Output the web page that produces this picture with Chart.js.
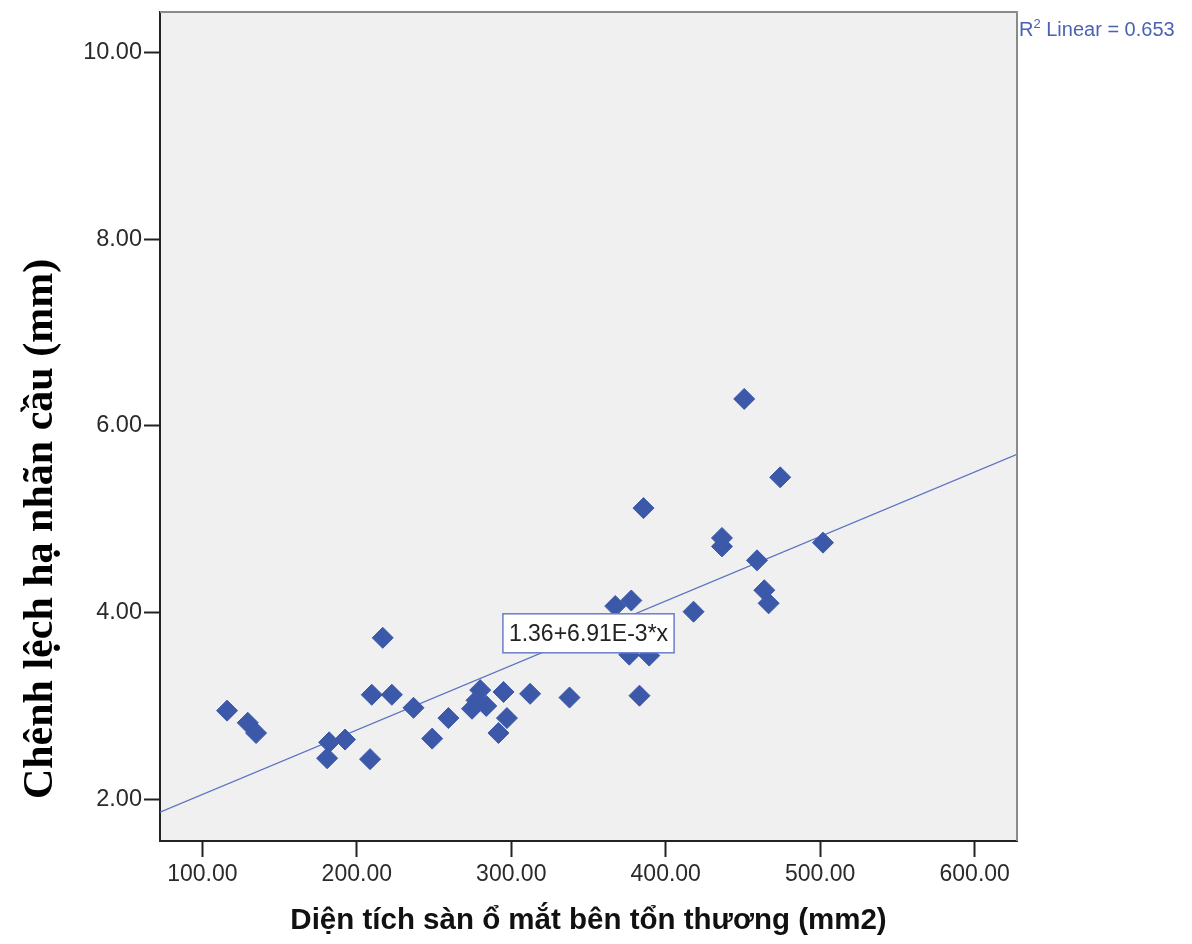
<!DOCTYPE html>
<html>
<head>
<meta charset="utf-8">
<script src="https://cdn.jsdelivr.net/npm/chart.js@4.4.1/dist/chart.umd.min.js"></script>
<style>
  html, body { margin: 0; padding: 0; background: #ffffff; }
  #wrap { width: 1192px; height: 944px; position: relative; }
</style>
</head>
<body>
<div id="wrap"><canvas id="chart"></canvas></div>
<script>
// Orbital floor area on the injured side (mm2) vs. globe displacement difference (mm)
const areaValues = [116.0, 129.4, 134.8, 180.8, 182.1, 192.4, 208.6, 209.7, 216.8, 222.7,
                    236.7, 248.8, 259.3, 279.9, 274.6, 283.8, 277.5, 295.0, 297.2, 291.7,
                    312.2, 337.7, 383.0, 376.4, 389.3, 367.3, 377.7, 418.0, 450.8, 474.1,
                    385.6, 436.4, 436.4, 459.1, 501.8, 463.8, 466.6];
const diffValues = [2.95, 2.82, 2.71, 2.44, 2.61, 2.64, 2.43, 3.12, 3.73, 3.12,
                    2.98, 2.65, 2.87, 3.17, 2.97, 3.00, 3.06, 3.15, 2.87, 2.71,
                    3.13, 3.09, 3.11, 3.55, 3.54, 4.07, 4.13, 4.01, 6.29, 5.45,
                    5.12, 4.80, 4.71, 4.56, 4.75, 4.24, 4.10];

const xTickValues = [100, 200, 300, 400, 500, 600];
const yTickValues = [2, 4, 6, 8, 10];
const xRange = [72.6, 627.4];
const yRange = [1.553, 10.436];

// Linear fit reported by the analysis
const fitIntercept = 1.36;
const fitSlope = 6.91e-3;
const r2Linear = 0.653;

const xTitle = 'Diện tích sàn ổ mắt bên tổn thương (mm2)';
const yTitle = 'Chênh lệch hạ nhãn cầu (mm)';

const markerColor = '#3C58A9';
const fitColor = '#5B72C2';
const plotBg = '#F0F0F0';

const points = areaValues.map((x, i) => ({ x: x, y: diffValues[i] }));
const fitLine = xRange.map(x => ({ x: x, y: fitIntercept + fitSlope * x }));
const fitLabel = fitIntercept.toFixed(2) + '+' + (fitSlope * 1000).toFixed(2) + 'E-3*x';

const framePlugin = {
  id: 'frame',
  beforeDraw(chart) {
    const { ctx, chartArea: a } = chart;
    ctx.save();
    ctx.fillStyle = '#ffffff';
    ctx.fillRect(0, 0, chart.width, chart.height);
    ctx.fillStyle = plotBg;
    ctx.fillRect(a.left, a.top, a.right - a.left, a.bottom - a.top);
    ctx.restore();
  },
  afterDatasetsDraw(chart) {
    // equation box centred on the fit line
    const { ctx, scales } = chart;
    const xm = (xRange[0] + xRange[1]) / 2;
    const px = scales.x.getPixelForValue(xm);
    const py = scales.y.getPixelForValue(fitIntercept + fitSlope * xm);
    ctx.save();
    ctx.font = '23px "Liberation Sans", Arial, sans-serif';
    const w = ctx.measureText(fitLabel).width + 12;
    const h = 39;
    ctx.fillStyle = '#ffffff';
    ctx.fillRect(px - w / 2, py - h / 2, w, h);
    ctx.strokeStyle = '#6A7DC8';
    ctx.lineWidth = 1.5;
    ctx.strokeRect(px - w / 2, py - h / 2, w, h);
    ctx.fillStyle = '#222222';
    ctx.textAlign = 'center';
    ctx.textBaseline = 'middle';
    ctx.fillText(fitLabel, px, py + 1);
    ctx.restore();
  },
  afterDraw(chart) {
    const { ctx, chartArea: a } = chart;
    ctx.save();
    // top and right edges of the plot frame
    ctx.strokeStyle = '#8A8A8A';
    ctx.lineWidth = 2;
    ctx.beginPath();
    ctx.moveTo(a.left, a.top);
    ctx.lineTo(a.right, a.top);
    ctx.lineTo(a.right, a.bottom);
    ctx.stroke();

    // R² note
    ctx.fillStyle = '#4A62B4';
    ctx.textBaseline = 'alphabetic';
    ctx.textAlign = 'left';
    let x = a.right + 2;
    const base = a.top + 24;
    ctx.font = '20px "Liberation Sans", Arial, sans-serif';
    ctx.fillText('R', x, base);
    x += ctx.measureText('R').width;
    ctx.font = '13px "Liberation Sans", Arial, sans-serif';
    ctx.fillText('2', x, base - 8);
    x += ctx.measureText('2').width;
    ctx.font = '20px "Liberation Sans", Arial, sans-serif';
    ctx.fillText(' Linear = ' + r2Linear.toFixed(3), x, base);

    // vertical axis title
    ctx.translate(52, 529);
    ctx.rotate(-Math.PI / 2);
    ctx.fillStyle = '#000000';
    ctx.font = 'bold 42px "Liberation Serif", "Times New Roman", serif';
    ctx.textAlign = 'center';
    ctx.fillText(yTitle, 0, 0);
    ctx.restore();
  }
};

new Chart(document.getElementById('chart'), {
  type: 'scatter',
  data: {
    datasets: [
      {
        label: 'points',
        data: points,
        pointStyle: 'rectRot',
        pointRadius: 10.5,
        pointHoverRadius: 10.5,
        backgroundColor: markerColor,
        borderColor: markerColor,
        borderWidth: 1,
        order: 0
      },
      {
        label: 'fit',
        type: 'line',
        data: fitLine,
        borderColor: fitColor,
        borderWidth: 1.3,
        pointRadius: 0,
        fill: false,
        order: 1
      }
    ]
  },
  options: {
    responsive: true,
    maintainAspectRatio: false,
    devicePixelRatio: 1,
    animation: false,
    events: [],
    layout: { padding: { top: 12, right: 175, bottom: 0, left: 0 } },
    plugins: {
      legend: { display: false },
      tooltip: { enabled: false }
    },
    scales: {
      x: {
        type: 'linear',
        min: xRange[0],
        max: xRange[1],
        afterBuildTicks: s => { s.ticks = xTickValues.map(v => ({ value: v })); },
        afterFit: s => { s.height = 103; s.paddingLeft = 0; s.paddingRight = 0; },
        border: { display: true, color: '#222222', width: 2 },
        grid: { display: true, drawOnChartArea: false, drawTicks: true, tickLength: 16, tickColor: '#222222', tickWidth: 2 },
        ticks: {
          padding: 4,
          maxRotation: 0,
          autoSkip: false,
          color: '#2a2a2a',
          font: { family: '"Liberation Sans", Arial, sans-serif', size: 23 },
          callback: v => Number(v).toFixed(2)
        },
        title: {
          display: true,
          text: xTitle,
          color: '#111111',
          font: { family: '"Liberation Sans", Arial, sans-serif', size: 29.5, weight: 'bold' },
          padding: { top: 0, bottom: 5 }
        }
      },
      y: {
        type: 'linear',
        min: yRange[0],
        max: yRange[1],
        afterBuildTicks: s => { s.ticks = yTickValues.map(v => ({ value: v })); },
        afterFit: s => { s.width = 160; s.paddingTop = 0; s.paddingBottom = 0; },
        border: { display: true, color: '#222222', width: 2 },
        grid: { display: true, drawOnChartArea: false, drawTicks: true, tickLength: 16, tickColor: '#222222', tickWidth: 2 },
        ticks: {
          padding: 2,
          autoSkip: false,
          color: '#2a2a2a',
          font: { family: '"Liberation Sans", Arial, sans-serif', size: 23.5 },
          callback: v => Number(v).toFixed(2)
        },
        title: { display: false }
      }
    }
  },
  plugins: [framePlugin]
});
</script>
</body>
</html>
